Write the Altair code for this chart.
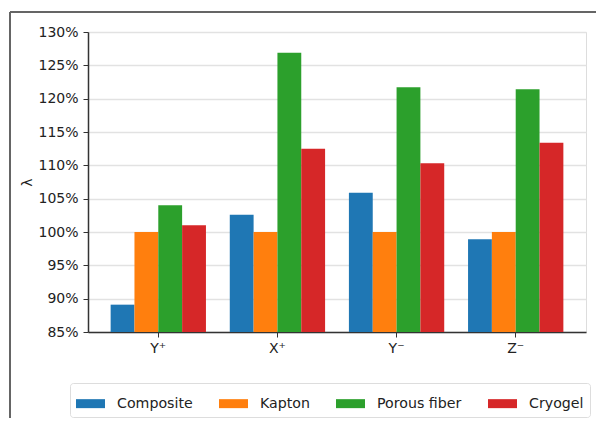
import altair as alt
import pandas as pd

groups = ["Y\u207a", "X\u207a", "Y\u207b", "Z\u207b"]
series = ["Composite", "Kapton", "Porous fiber", "Cryogel"]
composite = [0.891, 1.026, 1.059, 0.989]
kapton = [1.000, 1.000, 1.000, 1.000]
porous = [1.040, 1.269, 1.217, 1.214]
cryogel = [1.010, 1.125, 1.103, 1.134]
colors = ["#1f77b4", "#ff7f0e", "#2ca02c", "#d62728"]
y_ticks = [0.85, 0.90, 0.95, 1.00, 1.05, 1.10, 1.15, 1.20, 1.25, 1.30]
y_base = 0.85

rows = []
for s, vals in zip(series, [composite, kapton, porous, cryogel]):
    for g, v in zip(groups, vals):
        rows.append({"group": g, "series": s, "value": v})
df = pd.DataFrame(rows)

FONT = "DejaVu Sans"

bars = alt.Chart(df).mark_bar(stroke=None, clip=True).encode(
    x=alt.X("group:N", sort=groups, title=None,
            scale=alt.Scale(paddingInner=0.2, paddingOuter=0.19),
            axis=alt.Axis(labelAngle=0, labelFontSize=14, labelColor="#222",
                          labelFont=FONT, tickSize=5, tickColor="#333",
                          labelPadding=4, domain=True, domainColor="#333",
                          domainWidth=1.5, grid=False)),
    xOffset=alt.XOffset("series:N", sort=series,
                        scale=alt.Scale(paddingInner=0, paddingOuter=0)),
    y=alt.Y("value:Q", title="λ",
            scale=alt.Scale(domain=[0.85, 1.30], zero=False, nice=False),
            axis=alt.Axis(values=y_ticks, format=".0%", labelFontSize=14,
                          labelColor="#222", labelFont=FONT, tickSize=5,
                          tickColor="#333", labelPadding=5, domain=True,
                          domainColor="#333", domainWidth=1.5,
                          grid=True, gridColor="#e2e2e2", gridWidth=1.5,
                          titleFont=FONT, titleFontSize=14, titleColor="#222",
                          titleFontWeight="normal", titleX=-61, titleY=150,
                          titleAngle=270, titleAlign="center",
                          titleBaseline="middle")),
    y2=alt.datum(y_base),
    color=alt.Color("series:N", sort=series,
                    scale=alt.Scale(domain=series, range=colors),
                    legend=alt.Legend(
                        title=None, orient="none", legendX=-18, legendY=351,
                        direction="horizontal", columns=4,
                        symbolType="M-1,-0.31L1,-0.31L1,0.31L-1,0.31Z",
                        symbolSize=841, symbolStrokeWidth=0,
                        labelFont=FONT, labelFontSize=14.2, labelColor="#222",
                        labelOffset=12, columnPadding=26, padding=6,
                        strokeColor="#dddddd", fillColor="white",
                        cornerRadius=3)),
)

frame_top = alt.Chart(df).mark_rule(color="#666", strokeWidth=1.5).encode(
    x=alt.value(-78), x2=alt.value(520), y=alt.value(-20))
frame_left = alt.Chart(df).mark_rule(color="#666", strokeWidth=1.5).encode(
    x=alt.value(-78), y=alt.value(-20), y2=alt.value(400))

chart = alt.layer(bars, frame_top, frame_left).properties(
    width=498, height=300,
    autosize=alt.AutoSizeParams(type="none"),
    padding={"left": 80, "top": 24, "right": 10, "bottom": 86},
).configure_view(stroke="#333", strokeWidth=1.5).configure(background="white")

chart.save("out.html", embed_options={"renderer": "svg", "actions": False})
